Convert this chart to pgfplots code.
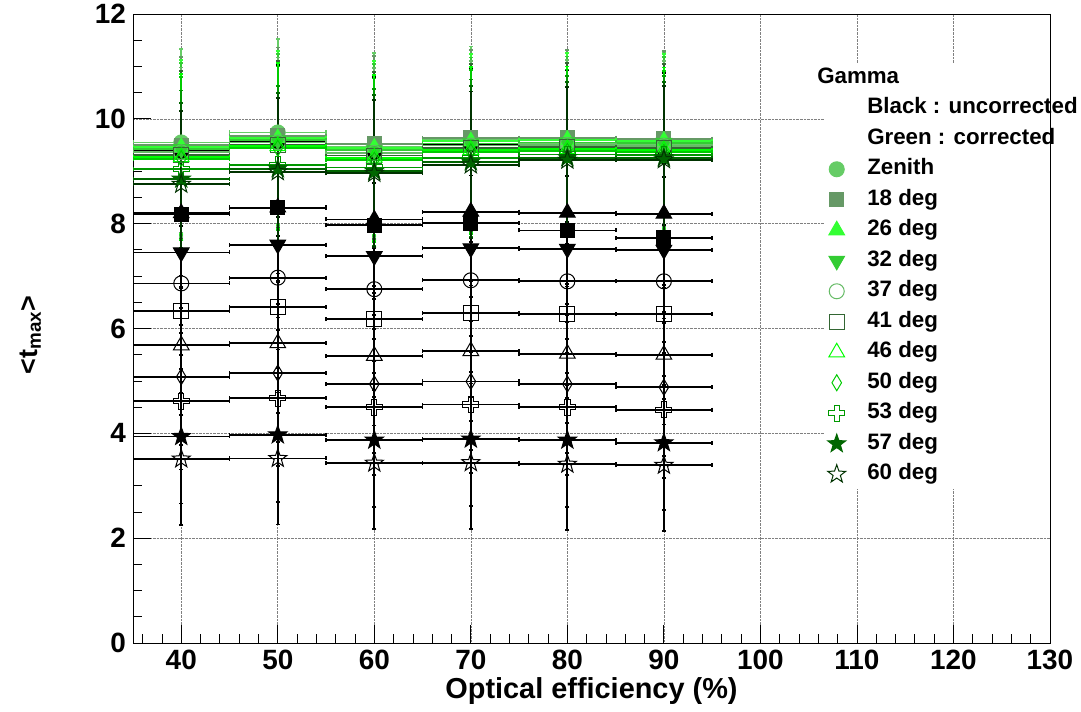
\documentclass[border=0pt]{standalone}
\usepackage{fontspec}
\setmainfont{Liberation Sans}
\usepackage{pgfplots}
\pgfplotsset{compat=1.18}
\usetikzlibrary{plotmarks}

\definecolor{cZ}{HTML}{66CC66}
\definecolor{c18}{HTML}{669966}
\definecolor{c26}{HTML}{33FF33}
\definecolor{c32}{HTML}{33CC33}
\definecolor{c37}{HTML}{66BB66}
\definecolor{c41}{HTML}{336633}
\definecolor{c46}{HTML}{00FF00}
\definecolor{c50}{HTML}{00CC00}
\definecolor{c53}{HTML}{009900}
\definecolor{c57}{HTML}{006600}
\definecolor{c60}{HTML}{003300}

\pgfdeclareplotmark{ostar}{%
 \pgfpathmoveto{\pgfqpoint{0pt}{\pgfplotmarksize}}%
 \pgfpathlineto{\pgfqpoint{-0.235\pgfplotmarksize}{0.324\pgfplotmarksize}}%
 \pgfpathlineto{\pgfqpoint{-0.951\pgfplotmarksize}{0.309\pgfplotmarksize}}%
 \pgfpathlineto{\pgfqpoint{-0.380\pgfplotmarksize}{-0.124\pgfplotmarksize}}%
 \pgfpathlineto{\pgfqpoint{-0.588\pgfplotmarksize}{-0.809\pgfplotmarksize}}%
 \pgfpathlineto{\pgfqpoint{0pt}{-0.4\pgfplotmarksize}}%
 \pgfpathlineto{\pgfqpoint{0.588\pgfplotmarksize}{-0.809\pgfplotmarksize}}%
 \pgfpathlineto{\pgfqpoint{0.380\pgfplotmarksize}{-0.124\pgfplotmarksize}}%
 \pgfpathlineto{\pgfqpoint{0.951\pgfplotmarksize}{0.309\pgfplotmarksize}}%
 \pgfpathlineto{\pgfqpoint{0.235\pgfplotmarksize}{0.324\pgfplotmarksize}}%
 \pgfpathclose\pgfusepathqstroke}
\pgfdeclareplotmark{fstar}{%
 \pgfpathmoveto{\pgfqpoint{0pt}{\pgfplotmarksize}}%
 \pgfpathlineto{\pgfqpoint{-0.235\pgfplotmarksize}{0.324\pgfplotmarksize}}%
 \pgfpathlineto{\pgfqpoint{-0.951\pgfplotmarksize}{0.309\pgfplotmarksize}}%
 \pgfpathlineto{\pgfqpoint{-0.380\pgfplotmarksize}{-0.124\pgfplotmarksize}}%
 \pgfpathlineto{\pgfqpoint{-0.588\pgfplotmarksize}{-0.809\pgfplotmarksize}}%
 \pgfpathlineto{\pgfqpoint{0pt}{-0.4\pgfplotmarksize}}%
 \pgfpathlineto{\pgfqpoint{0.588\pgfplotmarksize}{-0.809\pgfplotmarksize}}%
 \pgfpathlineto{\pgfqpoint{0.380\pgfplotmarksize}{-0.124\pgfplotmarksize}}%
 \pgfpathlineto{\pgfqpoint{0.951\pgfplotmarksize}{0.309\pgfplotmarksize}}%
 \pgfpathlineto{\pgfqpoint{0.235\pgfplotmarksize}{0.324\pgfplotmarksize}}%
 \pgfpathclose\pgfusepathqfillstroke}
\pgfdeclareplotmark{ocross}{%
 \pgfpathmoveto{\pgfqpoint{-0.33\pgfplotmarksize}{\pgfplotmarksize}}%
 \pgfpathlineto{\pgfqpoint{0.33\pgfplotmarksize}{\pgfplotmarksize}}%
 \pgfpathlineto{\pgfqpoint{0.33\pgfplotmarksize}{0.33\pgfplotmarksize}}%
 \pgfpathlineto{\pgfqpoint{\pgfplotmarksize}{0.33\pgfplotmarksize}}%
 \pgfpathlineto{\pgfqpoint{\pgfplotmarksize}{-0.33\pgfplotmarksize}}%
 \pgfpathlineto{\pgfqpoint{0.33\pgfplotmarksize}{-0.33\pgfplotmarksize}}%
 \pgfpathlineto{\pgfqpoint{0.33\pgfplotmarksize}{-\pgfplotmarksize}}%
 \pgfpathlineto{\pgfqpoint{-0.33\pgfplotmarksize}{-\pgfplotmarksize}}%
 \pgfpathlineto{\pgfqpoint{-0.33\pgfplotmarksize}{-0.33\pgfplotmarksize}}%
 \pgfpathlineto{\pgfqpoint{-\pgfplotmarksize}{-0.33\pgfplotmarksize}}%
 \pgfpathlineto{\pgfqpoint{-\pgfplotmarksize}{0.33\pgfplotmarksize}}%
 \pgfpathlineto{\pgfqpoint{-0.33\pgfplotmarksize}{0.33\pgfplotmarksize}}%
 \pgfpathclose\pgfusepathqstroke}

\pgfplotsset{
 ser/.style={color=#1, only marks, line width=1.8bp,
   error bars/x dir=both, error bars/x fixed=5,
   error bars/y dir=both, error bars/y explicit,
   error bars/error bar style={line width=1.8bp, color=#1},
   error bars/error mark options={rotate=90, mark size=2bp, line width=1.8bp, color=#1}},
 mZ/.style={mark=*, mark options={solid, line width=1bp, mark size=7.5bp}},
 m18/.style={mark=square*, mark options={solid, line width=1bp, mark size=7bp}},
 m26/.style={mark=triangle*, mark options={solid, line width=1bp, mark size=9bp}},
 m32/.style={mark=triangle*, mark options={solid, line width=1bp, mark size=9bp, rotate=180}},
 m37/.style={mark=o, mark options={solid, line width=1bp, mark size=7.5bp}},
 m41/.style={mark=square, mark options={solid, line width=1bp, mark size=7.5bp}},
 m46/.style={mark=triangle, mark options={solid, line width=1bp, mark size=9bp}},
 m50/.style={mark=diamond, mark options={solid, line width=1bp, mark size=8bp, xscale=0.8}},
 m53/.style={mark=ocross, mark options={solid, line width=1bp, mark size=8bp}},
 m57/.style={mark=fstar, mark options={solid, line width=1bp, mark size=9.5bp}},
 m60/.style={mark=ostar, mark options={solid, line width=1bp, mark size=9.5bp}},
}

\begin{document}
\begin{tikzpicture}
\useasboundingbox (0,0) rectangle (1081bp,712bp);
\begin{axis}[name=ax, at={(133bp,69bp)}, anchor=south west,
  scale only axis, width=917bp, height=629bp,
  xmin=35, xmax=130, ymin=0, ymax=12,
  xtick={40,50,...,130}, ytick={0,2,...,12},
  minor xtick={36,38,...,128}, minor ytick={0.5,1,...,11.5},
  tick pos=left, tick align=inside,
  major tick length=18bp, minor tick length=9bp,
  tick style={black, line width=0.8bp},
  grid=major, grid style={densely dotted, black!50, line width=0.6bp},
  axis line style={black, line width=0.9bp},
  /pgf/number format/assume math mode=true,
  ticklabel style={font=\fontsize{28}{28}\selectfont\bfseries},
  xticklabel style={inner sep=0pt, yshift=-7bp},
  yticklabel style={inner sep=0pt, xshift=-7bp},
  xlabel={Optical efficiency (\%)},
  xlabel style={font=\fontsize{29}{29}\selectfont\bfseries, at={(axis description cs:0.5,-0.076)}, anchor=center, inner sep=0pt},
  ylabel={<t\textsubscript{max}>},
  ylabel style={font=\fontsize{27}{27}\selectfont\bfseries, at={(axis description cs:-0.112,0.49)}, anchor=center, inner sep=0pt},
  legend cell align=left,
  legend style={at={(0.753,0.922)}, anchor=north west, draw=none, fill=white, inner sep=4bp,
    font=\fontsize{22.4}{27}\selectfont\bfseries, row sep=9.5bp,
    nodes={text height=16bp, text depth=5bp, inner sep=0pt},
    /tikz/every odd column/.append style={column sep=21.5bp}},
]
% ---------------- uncorrected (black) ----------------
\addplot[ser=black, mZ, forget plot] table[x=x, y=y, y error=e, row sep=\\] {x y e\\40 9.40 1.45\\50 9.58 1.45\\60 9.35 1.45\\70 9.50 1.45\\80 9.48 1.45\\90 9.43 1.45\\};
\addplot[ser=black, m18, forget plot] table[x=x, y=y, y error=e, row sep=\\] {x y e\\40 8.18 1.41\\50 8.30 1.41\\60 7.97 1.41\\70 8.01 1.41\\80 7.87 1.41\\90 7.73 1.41\\};
\addplot[ser=black, m26, forget plot] table[x=x, y=y, y error=e, row sep=\\] {x y e\\40 8.20 1.41\\50 8.31 1.41\\60 8.08 1.41\\70 8.23 1.41\\80 8.21 1.41\\90 8.19 1.41\\};
\addplot[ser=black, m32, forget plot] table[x=x, y=y, y error=e, row sep=\\] {x y e\\40 7.45 1.39\\50 7.60 1.39\\60 7.38 1.39\\70 7.53 1.39\\80 7.52 1.39\\90 7.50 1.39\\};
\addplot[ser=black, m37, forget plot] table[x=x, y=y, y error=e, row sep=\\] {x y e\\40 6.86 1.37\\50 6.97 1.37\\60 6.75 1.37\\70 6.92 1.37\\80 6.90 1.37\\90 6.90 1.37\\};
\addplot[ser=black, m41, forget plot] table[x=x, y=y, y error=e, row sep=\\] {x y e\\40 6.34 1.35\\50 6.41 1.35\\60 6.18 1.35\\70 6.30 1.35\\80 6.27 1.35\\90 6.27 1.35\\};
\addplot[ser=black, m46, forget plot] table[x=x, y=y, y error=e, row sep=\\] {x y e\\40 5.68 1.33\\50 5.72 1.33\\60 5.48 1.33\\70 5.57 1.33\\80 5.52 1.33\\90 5.50 1.33\\};
\addplot[ser=black, m50, forget plot] table[x=x, y=y, y error=e, row sep=\\] {x y e\\40 5.08 1.31\\50 5.15 1.31\\60 4.94 1.31\\70 4.99 1.31\\80 4.94 1.31\\90 4.88 1.31\\};
\addplot[ser=black, m53, forget plot] table[x=x, y=y, y error=e, row sep=\\] {x y e\\40 4.61 1.30\\50 4.67 1.30\\60 4.50 1.30\\70 4.55 1.30\\80 4.50 1.30\\90 4.45 1.30\\};
\addplot[ser=black, m57, forget plot] table[x=x, y=y, y error=e, row sep=\\] {x y e\\40 3.94 1.28\\50 3.97 1.28\\60 3.87 1.28\\70 3.89 1.28\\80 3.87 1.28\\90 3.82 1.28\\};
\addplot[ser=black, m60, forget plot] table[x=x, y=y, y error=e, row sep=\\] {x y e\\40 3.51 1.26\\50 3.52 1.26\\60 3.43 1.26\\70 3.44 1.26\\80 3.41 1.26\\90 3.39 1.26\\};
% ---------------- legend header ----------------
\addlegendimage{mark=none, draw opacity=0, white}\addlegendentry{\hspace*{-50bp}Gamma}
\addlegendimage{mark=none, draw opacity=0, white}\addlegendentry{Black : uncorrected}
\addlegendimage{mark=none, draw opacity=0, white}\addlegendentry{Green : corrected}
% ---------------- corrected (green) ----------------
\addplot[ser=cZ, mZ] table[x=x, y=y, y error=e, row sep=\\] {x y e\\40 9.55 1.78\\50 9.74 1.78\\60 9.47 1.78\\70 9.60 1.78\\80 9.54 1.78\\90 9.50 1.78\\};
\addlegendentry{Zenith}
\addplot[ser=c18, m18] table[x=x, y=y, y error=e, row sep=\\] {x y e\\40 9.50 1.68\\50 9.68 1.68\\60 9.52 1.68\\70 9.64 1.68\\80 9.64 1.68\\90 9.62 1.68\\};
\addlegendentry{18 deg}
\addplot[ser=c26, m26] table[x=x, y=y, y error=e, row sep=\\] {x y e\\40 9.46 1.66\\50 9.63 1.66\\60 9.45 1.66\\70 9.57 1.66\\80 9.60 1.66\\90 9.58 1.66\\};
\addlegendentry{26 deg}
\addplot[ser=c32, m32] table[x=x, y=y, y error=e, row sep=\\] {x y e\\40 9.42 1.64\\50 9.59 1.64\\60 9.40 1.64\\70 9.53 1.64\\80 9.55 1.64\\90 9.54 1.64\\};
\addlegendentry{32 deg}
\addplot[ser=c37, m37] table[x=x, y=y, y error=e, row sep=\\] {x y e\\40 9.36 1.62\\50 9.55 1.62\\60 9.35 1.62\\70 9.49 1.62\\80 9.50 1.62\\90 9.48 1.62\\};
\addlegendentry{37 deg}
\addplot[ser=c41, m41] table[x=x, y=y, y error=e, row sep=\\] {x y e\\40 9.31 1.60\\50 9.51 1.60\\60 9.30 1.60\\70 9.45 1.60\\80 9.46 1.60\\90 9.44 1.60\\};
\addlegendentry{41 deg}
\addplot[ser=c46, m46] table[x=x, y=y, y error=e, row sep=\\] {x y e\\40 9.27 1.58\\50 9.48 1.58\\60 9.26 1.58\\70 9.41 1.58\\80 9.42 1.58\\90 9.40 1.58\\};
\addlegendentry{46 deg}
\addplot[ser=c50, m50] table[x=x, y=y, y error=e, row sep=\\] {x y e\\40 9.24 1.56\\50 9.44 1.56\\60 9.21 1.56\\70 9.37 1.56\\80 9.38 1.56\\90 9.36 1.56\\};
\addlegendentry{50 deg}
\addplot[ser=c53, m53] table[x=x, y=y, y error=e, row sep=\\] {x y e\\40 9.04 1.50\\50 9.12 1.50\\60 9.07 1.50\\70 9.25 1.50\\80 9.32 1.50\\90 9.31 1.50\\};
\addlegendentry{53 deg}
\addplot[ser=c57, m57] table[x=x, y=y, y error=e, row sep=\\] {x y e\\40 8.85 1.45\\50 9.05 1.45\\60 9.00 1.45\\70 9.18 1.45\\80 9.26 1.45\\90 9.26 1.45\\};
\addlegendentry{57 deg}
\addplot[ser=c60, m60] table[x=x, y=y, y error=e, row sep=\\] {x y e\\40 8.75 1.40\\50 8.99 1.40\\60 8.96 1.40\\70 9.12 1.40\\80 9.21 1.40\\90 9.22 1.40\\};
\addlegendentry{60 deg}
\end{axis}
\draw[black, line width=0.9bp] (ax.north east) -- (ax.south east);
\end{tikzpicture}
\end{document}
